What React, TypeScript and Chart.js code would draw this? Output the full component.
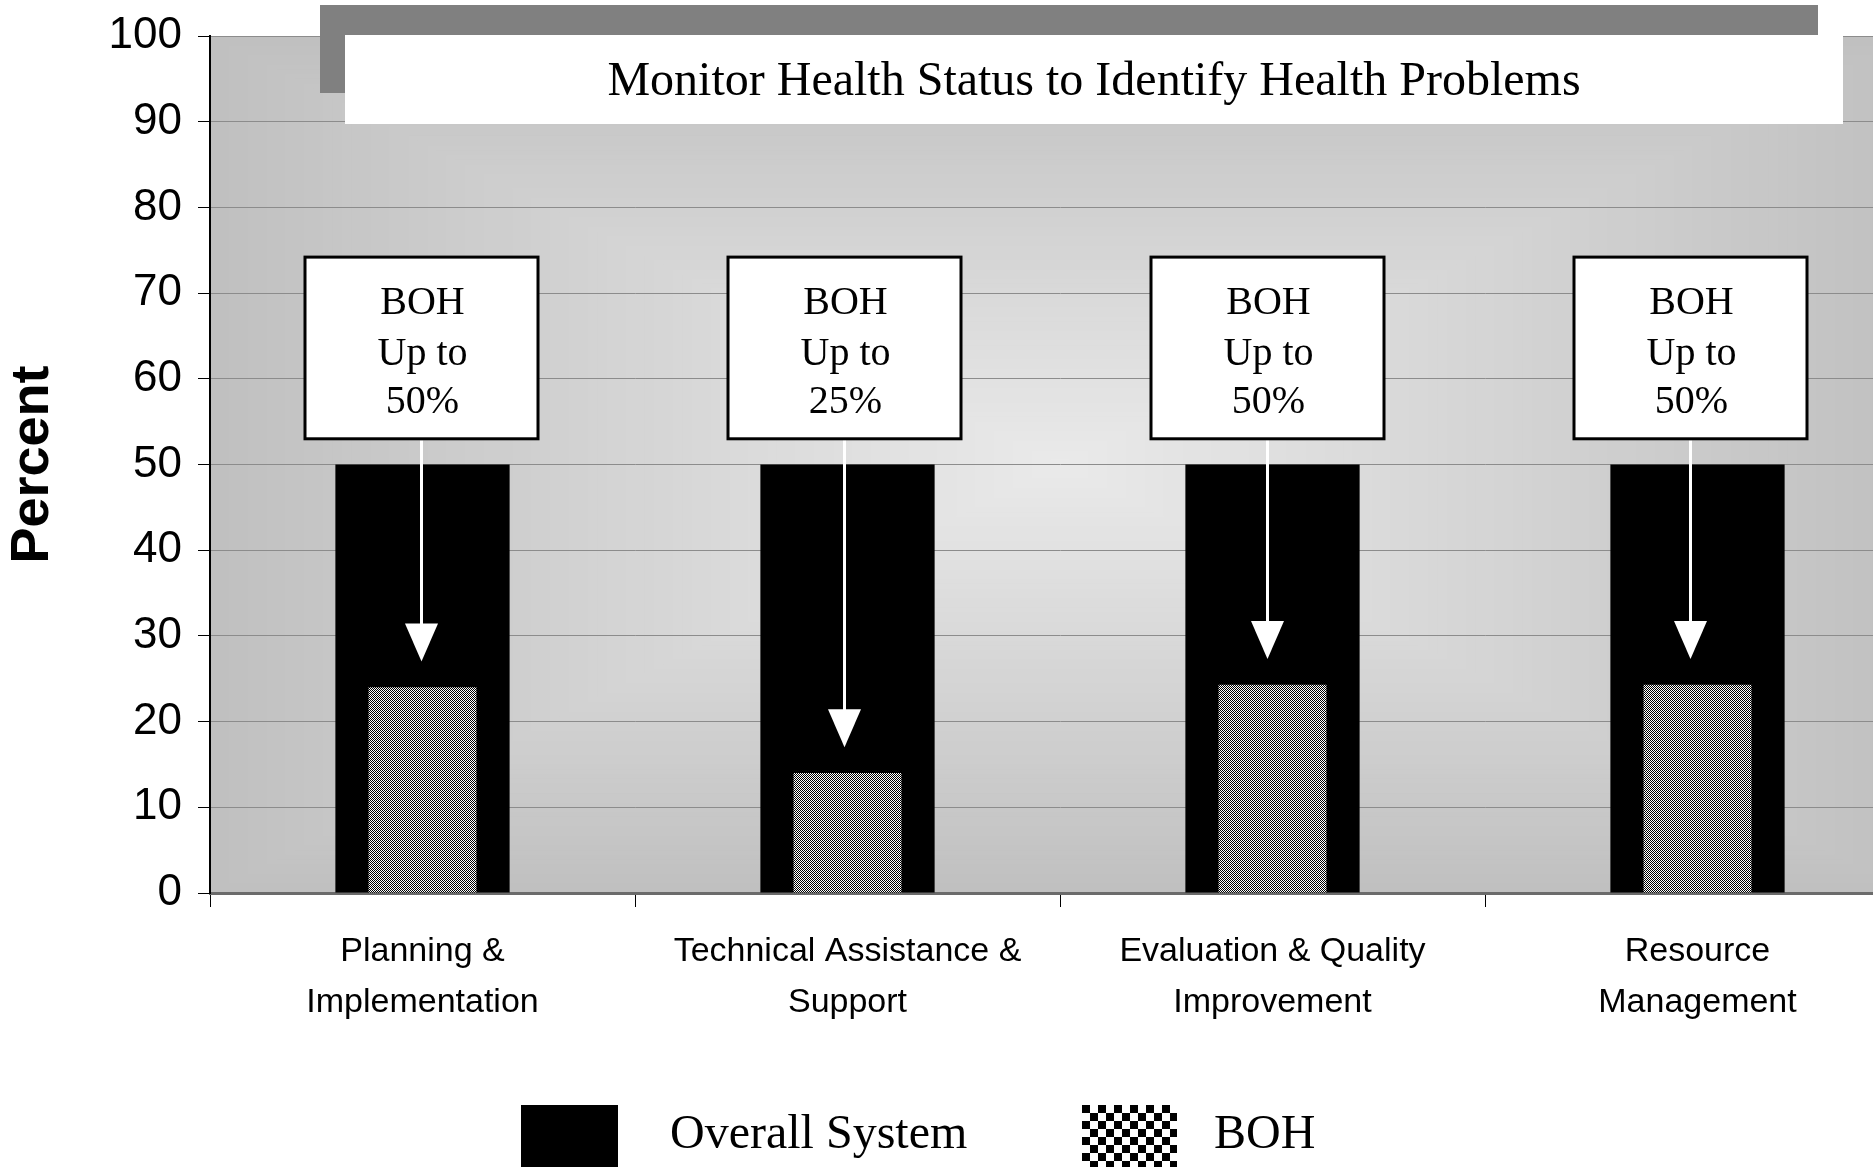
import React, { useEffect, useRef } from 'react';
import { Chart, registerables } from 'chart.js';

Chart.register(...registerables);

// ---- data ----
const categories: string[][] = [
  ['Planning &', 'Implementation'],
  ['Technical Assistance &', 'Support'],
  ['Evaluation & Quality', 'Improvement'],
  ['Resource', 'Management'],
];
const seriesLabels = ['Overall System', 'BOH'];
const overallSystem = [50, 50, 50, 50];
const bohValues = [24, 14, 24.3, 24.3];
const bohUpTo = ['50%', '25%', '50%', '50%'];
const yMin = 0;
const yMax = 100;
const yStep = 10;
const chartTitle = 'Monitor Health Status to Identify Health Problems';
const yTitle = 'Percent';

const SANS = '"Liberation Sans", Arial, sans-serif';
const SERIF = '"Liberation Serif", "Times New Roman", serif';

function makeFinePattern(): CanvasPattern | string {
  const c = document.createElement('canvas');
  c.width = 2;
  c.height = 2;
  const g = c.getContext('2d');
  if (!g) return '#808080';
  g.fillStyle = '#ffffff';
  g.fillRect(0, 0, 2, 2);
  g.fillStyle = '#000000';
  g.fillRect(0, 0, 1, 1);
  g.fillRect(1, 1, 1, 1);
  const p = g.createPattern(c, 'repeat');
  return p || '#808080';
}

const decorPlugin = {
  id: 'decor',
  beforeDraw(chart: any) {
    const { ctx, chartArea: a } = chart;
    const steps = 90;
    const cx = (a.left + a.right) / 2;
    const cy = (a.top + a.bottom) / 2;
    const hw = (a.right - a.left) / 2;
    const hh = (a.bottom - a.top) / 2;
    ctx.save();
    for (let i = 0; i < steps; i++) {
      const t = i / steps;
      const c = Math.round(192 + (234 - 192) * t);
      ctx.fillStyle = `rgb(${c},${c},${c})`;
      const s = 1 - t;
      ctx.fillRect(cx - hw * s, cy - hh * s, 2 * hw * s, 2 * hh * s);
    }
    ctx.restore();
  },
  afterDraw(chart: any) {
    const { ctx } = chart;
    const xs = chart.scales.x;
    const ys = chart.scales.y;
    ctx.save();

    // title box with shadow
    ctx.fillStyle = '#808080';
    ctx.fillRect(320, 5, 1498, 88);
    ctx.fillStyle = '#ffffff';
    ctx.fillRect(345, 35, 1498, 89);
    ctx.fillStyle = '#000';
    ctx.font = `48px ${SERIF}`;
    ctx.textAlign = 'center';
    ctx.textBaseline = 'alphabetic';
    ctx.fillText(chartTitle, 1094, 95);

    // annotation boxes and arrows
    const boxW = 233;
    const top = ys.getPixelForValue(74.2);
    const bottom = ys.getPixelForValue(53.0);
    for (let i = 0; i < categories.length; i++) {
      const cx = xs.getPixelForValue(i) - 1 - 2 * i;
      ctx.fillStyle = '#ffffff';
      ctx.fillRect(cx - boxW / 2, top, boxW, bottom - top);
      ctx.strokeStyle = '#000';
      ctx.lineWidth = 3;
      ctx.strokeRect(cx - boxW / 2, top, boxW, bottom - top);
      ctx.fillStyle = '#000';
      ctx.font = `40px ${SERIF}`;
      ctx.textAlign = 'center';
      ctx.fillText('BOH', cx + 1, top + 57);
      ctx.fillText('Up to', cx + 1, top + 108);
      ctx.fillText(bohUpTo[i], cx + 1, top + 156);

      // arrow
      const tip = ys.getPixelForValue(bohValues[i] + 3);
      const headTop = tip - 38;
      ctx.strokeStyle = '#ffffff';
      ctx.lineWidth = 3;
      ctx.beginPath();
      ctx.moveTo(cx, bottom + 2);
      ctx.lineTo(cx, headTop + 2);
      ctx.stroke();
      ctx.fillStyle = '#ffffff';
      ctx.beginPath();
      ctx.moveTo(cx - 16.5, headTop);
      ctx.lineTo(cx + 16.5, headTop);
      ctx.lineTo(cx, tip);
      ctx.closePath();
      ctx.fill();
    }

    // legend
    ctx.fillStyle = '#000';
    ctx.fillRect(521, 1105, 97, 90);
    const px = 1082;
    const py = 1105;
    const cell = 8;
    ctx.fillStyle = '#ffffff';
    ctx.fillRect(px, py, 95, 90);
    ctx.fillStyle = '#000';
    for (let r = 0; r < 12; r++) {
      for (let c = 0; c < 12; c++) {
        if ((r + c) % 2 === 0) {
          const w = Math.min(cell, px + 95 - (px + c * cell));
          if (w > 0) ctx.fillRect(px + c * cell, py + r * cell, w, cell);
        }
      }
    }
    ctx.font = `48px ${SERIF}`;
    ctx.textAlign = 'left';
    ctx.fillStyle = '#000';
    ctx.fillText(chart.data.datasets[0].label, 670, 1148);
    ctx.fillText(chart.data.datasets[1].label, 1214, 1148);

    ctx.restore();
  },
};

export default function App() {
  const ref = useRef<HTMLCanvasElement | null>(null);

  useEffect(() => {
    const canvas = ref.current;
    if (!canvas) return;
    const pattern = makeFinePattern();
    const chart = new Chart(canvas, {
      type: 'bar',
      data: {
        labels: categories as any,
        datasets: [
          {
            label: seriesLabels[0],
            data: overallSystem,
            backgroundColor: '#000000',
            borderWidth: 0,
            barPercentage: 0.41,
            categoryPercentage: 1,
            grouped: false,
            order: 1,
          } as any,
          {
            label: seriesLabels[1],
            data: bohValues,
            backgroundColor: pattern as any,
            borderWidth: 0,
            barPercentage: 0.254,
            categoryPercentage: 1,
            grouped: false,
            order: 0,
          } as any,
        ],
      },
      options: {
        responsive: false,
        animation: false,
        devicePixelRatio: 1,
        layout: { padding: { top: 36, right: 10, bottom: 124, left: 0 } },
        plugins: {
          legend: { display: false },
          tooltip: { enabled: false },
          title: { display: false },
        },
        scales: {
          x: {
            grid: { drawOnChartArea: false, tickLength: 14, tickColor: '#000', offset: true },
            border: { color: '#6b6b6b', width: 3 },
            ticks: {
              font: { family: SANS, size: 34, lineHeight: 1.5 },
              color: '#000',
              padding: 19,
              maxRotation: 0,
              autoSkip: false,
            },
            afterFit: (s: any) => {
              s.height = 150;
              s.paddingLeft = 0;
              s.paddingRight = 0;
            },
          },
          y: {
            min: yMin,
            max: yMax,
            ticks: {
              stepSize: yStep,
              font: { family: SANS, size: 44 },
              color: '#000',
              padding: 16,
            },
            grid: { color: '#8c8c8c', lineWidth: 1, tickLength: 12, tickColor: '#000' },
            border: { color: '#000', width: 2 },
            title: {
              display: true,
              text: yTitle,
              color: '#000',
              font: { family: SANS, size: 54, weight: 'bold', lineHeight: 1.2 },
              padding: { top: 1, bottom: 0 },
            },
            afterFit: (s: any) => {
              s.width = 210;
              s.paddingTop = 0;
              s.paddingBottom = 0;
            },
          },
        },
      } as any,
      plugins: [decorPlugin as any],
    });
    return () => chart.destroy();
  }, []);

  return (
    <div
      style={{
        position: 'fixed',
        left: 0,
        top: 0,
        width: 1873,
        height: 1167,
        overflow: 'hidden',
        background: '#ffffff',
      }}
    >
      <canvas ref={ref} width={1920} height={1167} style={{ width: 1920, height: 1167, display: 'block' }} />
    </div>
  );
}
